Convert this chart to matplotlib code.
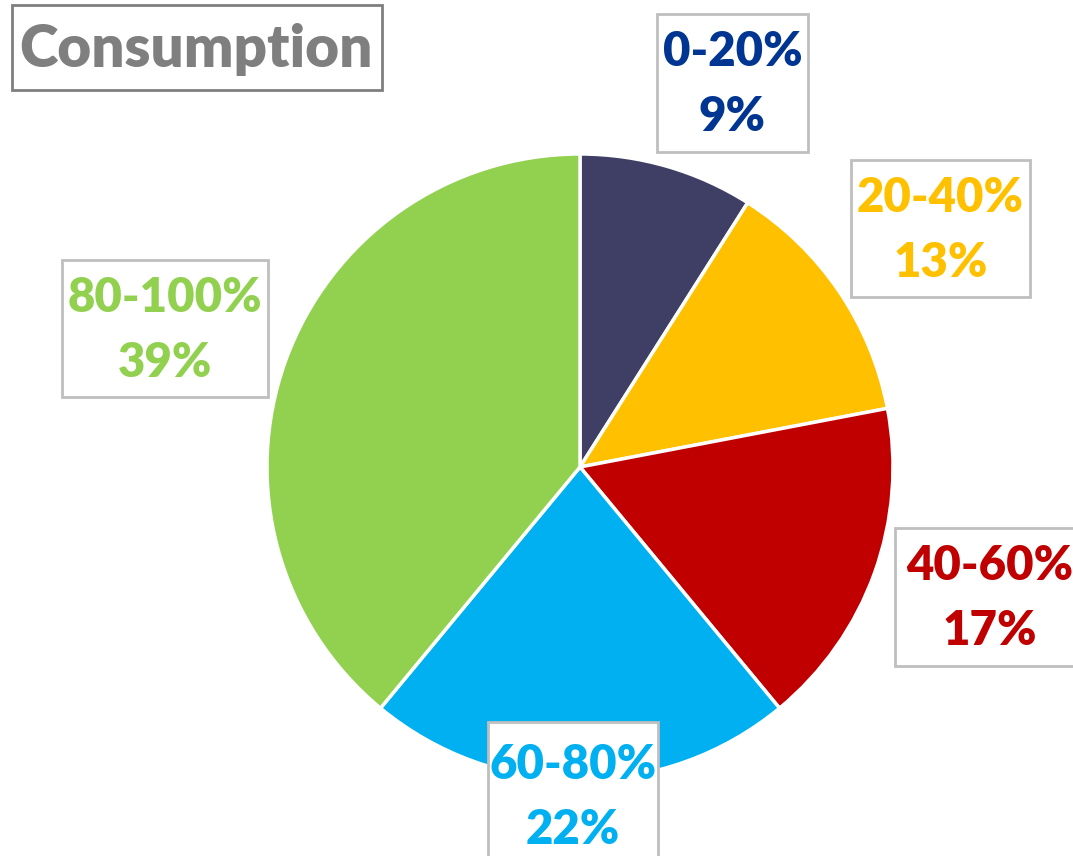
import matplotlib.pyplot as plt
from matplotlib.patches import Rectangle

# data
labels = ["0-20%", "20-40%", "40-60%", "60-80%", "80-100%"]
shares = [9, 13, 17, 22, 39]
wedge_colors = ["#3F3F66", "#FFC000", "#C00000", "#00B0F0", "#92D050"]
text_colors = ["#003591", "#FFC000", "#C00000", "#00B0F0", "#92D050"]

# label boxes in pixels (x0, y0, x1, y1), y measured from top
label_boxes = [(657, 14, 808, 152), (851, 160, 1030, 297),
               (895, 528, 1085, 666), (488, 722, 658, 870),
               (62, 260, 268, 397)]

W, H = 1073, 856
fig = plt.figure(figsize=(W / 100, H / 100), dpi=100)
ax = fig.add_axes([0, 0, 1, 1])

cx, cy, r = 580, H - 467, 313
ax.pie(shares, colors=wedge_colors, startangle=90, counterclock=False,
       center=(cx, cy), radius=r, frame=True,
       wedgeprops=dict(edgecolor="white", linewidth=2.5))
ax.set_xlim(0, W)
ax.set_ylim(0, H)
ax.axis("off")

font = "Lato"
for lab, val, col, (x0, y0, x1, y1) in zip(labels, shares, text_colors, label_boxes):
    ax.add_patch(Rectangle((x0, H - y1), x1 - x0, y1 - y0, fc="white",
                           ec="#BFBFBF", lw=2, zorder=3))
    xc = (x0 + x1) / 2
    yc = (y0 + y1) / 2
    ax.text(xc, H - (yc - 31), lab, ha="center", va="center", fontsize=34,
            fontweight="heavy", color=col, family=font, zorder=4)
    ax.text(xc, H - (yc + 34), f"{val}%", ha="center", va="center", fontsize=34,
            fontweight="heavy", color=col, family=font, zorder=4)

# title box
ax.add_patch(Rectangle((12, H - 90), 370, 85, fc="white", ec="#7F7F7F",
                       lw=2, zorder=3))
ax.text(196, H - 49, "Consumption", ha="center", va="center",
        fontsize=42, fontweight="heavy", color="#7F7F7F", family=font, zorder=4)

fig.savefig("out.png", dpi=100)
